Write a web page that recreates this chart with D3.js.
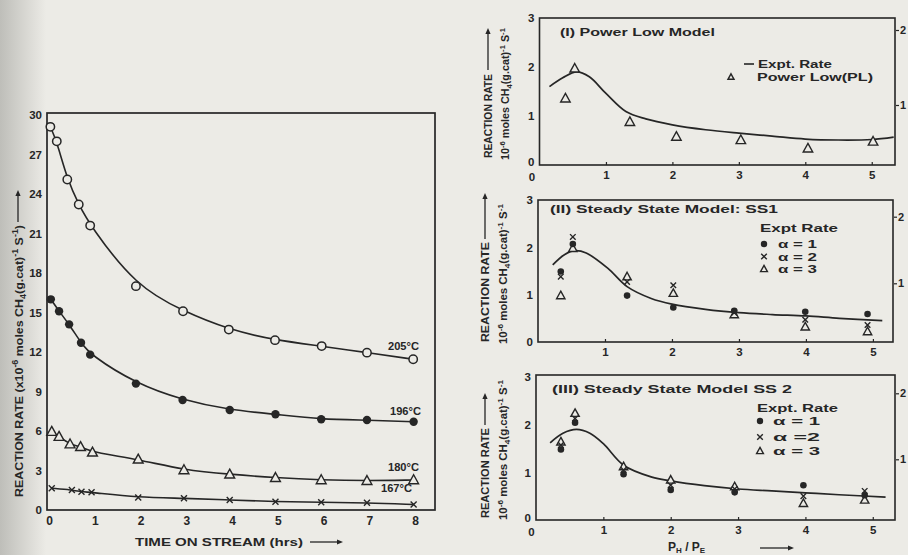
<!DOCTYPE html>
<html>
<head>
<meta charset="utf-8">
<script src="https://cdn.jsdelivr.net/npm/d3@7"></script>
<style>
  body { margin: 0; background: #ecebe6; }
  svg { display: block; }
  text { font-family: "Liberation Sans", Arial, sans-serif; font-weight: bold; fill: #262626; }
</style>
</head>
<body>
<div id="chart"></div>
<script>
// ---- left panel: reaction rate vs time on stream ----
const timeTicks = [0, 1, 2, 3, 4, 5, 6, 7, 8];
const rateTicks = [0, 3, 6, 9, 12, 15, 18, 21, 24, 27, 30];
const temps = ["205°C", "196°C", "180°C", "167°C"];

const time205 = [0.03, 0.17, 0.4, 0.65, 0.9, 1.9, 2.93, 3.93, 4.94, 5.96, 6.95, 7.96];
const rate205 = [29.1, 28.0, 25.1, 23.2, 21.6, 17.0, 15.1, 13.7, 12.9, 12.45, 11.95, 11.45];
const time196 = [0.04, 0.22, 0.44, 0.7, 0.9, 1.9, 2.92, 3.95, 4.95, 5.95, 6.95, 7.97];
const rate196 = [16.0, 15.1, 14.1, 12.7, 11.8, 9.6, 8.35, 7.6, 7.27, 6.89, 6.83, 6.7];
const time180 = [0.06, 0.22, 0.46, 0.69, 0.95, 1.95, 2.95, 3.95, 4.95, 5.95, 6.95, 7.97];
const rate180 = [5.95, 5.57, 5.0, 4.8, 4.38, 3.85, 3.04, 2.71, 2.45, 2.28, 2.22, 2.28];
const time167 = [0.06, 0.5, 0.71, 0.93, 1.95, 2.95, 3.95, 4.95, 5.95, 6.95, 7.97];
const rate167 = [1.65, 1.52, 1.39, 1.34, 0.95, 0.9, 0.76, 0.63, 0.58, 0.55, 0.42];

// ---- right panels: rate vs P_H / P_E ----
const ratioTicks = [0, 1, 2, 3, 4, 5];
const rightRateTicks = [0, 1, 2, 3];
const auxTicks = [1, 2];

// (I) power law model
const exptXI = [0.15, 0.35, 0.56, 0.75, 1.0, 1.3, 1.6, 2.0, 2.5, 3.0, 3.5, 4.0, 4.5, 5.0, 5.33];
const exptRateI = [1.6, 1.78, 1.9, 1.8, 1.46, 1.09, 0.94, 0.82, 0.72, 0.65, 0.59, 0.53, 0.51, 0.52, 0.57];
const plX = [0.39, 0.53, 1.36, 2.06, 3.03, 4.04, 5.02];
const plRate = [1.36, 1.97, 0.88, 0.58, 0.51, 0.34, 0.48];

// (II) steady state model SS1
const exptXII = [0.22, 0.4, 0.55, 0.72, 1.04, 1.33, 1.69, 2.0, 2.5, 3.0, 3.5, 4.0, 4.5, 5.14];
const exptRateII = [1.63, 1.85, 1.93, 1.88, 1.56, 1.17, 0.92, 0.8, 0.69, 0.62, 0.58, 0.55, 0.5, 0.45];
const ss1X = [0.34, 0.52, 1.33, 2.02, 2.93, 3.99, 4.92];
const ss1A1 = [1.49, 2.07, 0.98, 0.73, 0.66, 0.64, 0.59];
const ss1A2 = [1.38, 2.22, 1.27, 1.2, 0.62, 0.47, 0.36];
const ss1A3 = [0.98, 1.98, 1.38, 1.03, 0.58, 0.32, 0.22];

// (III) steady state model SS2
const exptXIII = [0.21, 0.4, 0.6, 0.8, 1.0, 1.3, 1.72, 2.0, 2.5, 3.0, 3.5, 4.0, 4.5, 5.19];
const exptRateIII = [1.62, 1.82, 1.9, 1.82, 1.6, 1.15, 0.9, 0.82, 0.72, 0.65, 0.61, 0.57, 0.53, 0.48];
const ss2X = [0.37, 0.58, 1.3, 2.0, 2.95, 3.97, 4.88];
const ss2A1 = [1.48, 2.04, 0.96, 0.63, 0.58, 0.73, 0.52];
const ss2A2 = [1.57, 2.13, 1.05, 0.73, 0.65, 0.5, 0.61];
const ss2A3 = [1.64, 2.24, 1.12, 0.84, 0.7, 0.35, 0.42];

const W = 908, H = 555;
const ink = "#262626";
const paper = "#ecebe6";
const fmt = d3.format("d");

const svg = d3.select("#chart").append("svg")
  .attr("width", W)
  .attr("height", H);

// paper + darker scan edge on the left
const grad = svg.append("defs").append("linearGradient")
  .attr("id", "edge").attr("x1", "0").attr("x2", "1");
grad.append("stop").attr("offset", "0").attr("stop-color", "#bebeb9");
grad.append("stop").attr("offset", "1").attr("stop-color", paper);
svg.append("rect").attr("width", W).attr("height", H).attr("fill", paper);
svg.append("rect").attr("width", 46).attr("height", H).attr("fill", "url(#edge)");

function arrow(x1, y1, x2, y2) {
  const a = Math.atan2(y2 - y1, x2 - x1), L = 6, w = 2.6;
  svg.append("line")
    .attr("x1", x1).attr("y1", y1).attr("x2", x2 - L * Math.cos(a)).attr("y2", y2 - L * Math.sin(a))
    .attr("stroke", ink).attr("stroke-width", 1.3);
  const p = [
    [x2, y2],
    [x2 - L * Math.cos(a) + w * Math.sin(a), y2 - L * Math.sin(a) - w * Math.cos(a)],
    [x2 - L * Math.cos(a) - w * Math.sin(a), y2 - L * Math.sin(a) + w * Math.cos(a)]
  ];
  svg.append("path").attr("d", "M" + p.join("L") + "Z").attr("fill", ink);
}

function mark(g, kind, cx, cy, s) {
  if (kind === "open") {
    g.append("circle").attr("cx", cx).attr("cy", cy).attr("r", s)
      .attr("fill", paper).attr("stroke", ink).attr("stroke-width", 1.5);
  } else if (kind === "dot") {
    g.append("circle").attr("cx", cx).attr("cy", cy).attr("r", s).attr("fill", ink);
  } else if (kind === "tri") {
    g.append("path")
      .attr("d", `M${cx},${cy - s}L${cx + s * 0.95},${cy + s * 0.72}L${cx - s * 0.95},${cy + s * 0.72}Z`)
      .attr("fill", paper).attr("stroke", ink).attr("stroke-width", 1.4);
  } else if (kind === "cross") {
    g.append("path")
      .attr("d", `M${cx - s},${cy - s}L${cx + s},${cy + s}M${cx + s},${cy - s}L${cx - s},${cy + s}`)
      .attr("stroke", ink).attr("stroke-width", 1.4);
  }
}

function styleAxis(g, size) {
  g.select(".domain").remove();
  g.selectAll("line").attr("stroke", ink).attr("stroke-width", 1.2);
  g.selectAll("text")
    .attr("font-family", "Liberation Sans, Arial, sans-serif")
    .attr("font-weight", "bold")
    .attr("font-size", size)
    .attr("fill", ink);
}

// rotated text label, reads bottom-to-top, starting at (x, y)
function vlabel(x, y, len, parts, size) {
  const t = svg.append("text")
    .attr("transform", `translate(${x},${y}) rotate(-90)`)
    .attr("font-size", size)
    .attr("textLength", len)
    .attr("lengthAdjust", "spacingAndGlyphs");
  parts.forEach(p => {
    const s = t.append("tspan").text(p[0]);
    if (p[1] === "sup") s.attr("font-size", size * 0.72).attr("dy", -size * 0.4);
    if (p[1] === "sub") s.attr("font-size", size * 0.72).attr("dy", size * 0.3);
    if (p[1] === "back") s.attr("dy", p[2]);
  });
  return t;
}

function label(x, y, str, size, len) {
  const t = svg.append("text").attr("x", x).attr("y", y).attr("font-size", size).text(str);
  if (len) t.attr("textLength", len).attr("lengthAdjust", "spacingAndGlyphs");
  return t;
}

// ================= LEFT PANEL =================
const xL = d3.scaleLinear().domain([0, 8]).range([49, 415]);
const yL = d3.scaleLinear().domain([0, 30]).range([510, 115]);

svg.append("rect")
  .attr("x", 47).attr("y", 113).attr("width", 388).attr("height", 397)
  .attr("fill", "none").attr("stroke", ink).attr("stroke-width", 1.7);

svg.append("g").attr("transform", "translate(0,510)")
  .call(d3.axisBottom(xL).tickValues(timeTicks).tickFormat(fmt).tickSize(0).tickPadding(6))
  .call(g => styleAxis(g, 12));
svg.append("g").attr("transform", "translate(45,0)")
  .call(d3.axisLeft(yL).tickValues(rateTicks).tickFormat(fmt).tickSize(0).tickPadding(3))
  .call(g => styleAxis(g, 11.5));

const leftSeries = [
  { name: temps[0], t: time205, r: rate205, kind: "open", s: 4.2, lx: 388, ly: 350 },
  { name: temps[1], t: time196, r: rate196, kind: "dot", s: 4.2, lx: 390, ly: 415 },
  { name: temps[2], t: time180, r: rate180, kind: "tri", s: 5.2, lx: 388, ly: 471 },
  { name: temps[3], t: time167, r: rate167, kind: "cross", s: 3, lx: 381, ly: 492 }
];

const lineL = d3.line()
  .x(d => xL(d[0]))
  .y(d => yL(d[1]))
  .curve(d3.curveBasis);

const gLeft = svg.append("g");
leftSeries.forEach(s => {
  const pts = s.t.map((t, i) => [t, s.r[i]]);
  gLeft.append("path").attr("d", lineL(pts))
    .attr("fill", "none").attr("stroke", ink).attr("stroke-width", 1.6);
  pts.forEach(p => mark(gLeft, s.kind, xL(p[0]), yL(p[1]), s.s));
  label(s.lx, s.ly, s.name, 11.5, 31);
});

// left axis titles
label(135, 546, "TIME ON STREAM (hrs)", 11.5, 168);
arrow(310, 542, 343, 542);

vlabel(23, 497, 272, [
  ["REACTION  RATE (x10"], ["-6", "sup"], [" moles CH", "back", 4.6], ["4", "sub"],
  ["(g.cat)", "back", -3.4], ["-1", "sup"], [" S", "back", 4.6], ["-1", "sup"], [")", "back", 4.6]
], 11.5);
arrow(18, 222, 18, 190);

// ================= RIGHT PANELS =================
const panels = [
  {
    left: 539.5, right: 895, top: 18, bottom: 165, y3: 18, xMax: 5.35,
    xTicks: ratioTicks, zeroDx: -8, zeroDy: 2, yZeroDy: -3, tickY: 6,
    aux: [105, 30],
    curve: { x: exptXI, y: exptRateI },
    groups: [{ x: plX, y: plRate, kind: "tri", s: 5 }],
    title: ["(I) Power Low Model", 560, 36, 155],
    yl: { x1: 492, x2: 509, base: 158, len1: 84, arrow: [70, 28], len2: 132 }
  },
  {
    left: 538, right: 893, top: 200, bottom: 342, y3: 200, xMax: 5.3,
    xTicks: ratioTicks.slice(1), zeroDx: 0, zeroDy: 0, yZeroDy: 0, tickY: 6,
    aux: [283.3, 216.7],
    curve: { x: exptXII, y: exptRateII },
    groups: [
      { x: ss1X, y: ss1A3, kind: "tri", s: 4.4 },
      { x: ss1X, y: ss1A2, kind: "cross", s: 2.8 },
      { x: ss1X, y: ss1A1, kind: "dot", s: 3.3 }
    ],
    title: ["(II) Steady State Model: SS1", 550, 213, 228],
    yl: { x1: 489, x2: 507, base: 342, len1: 100, arrow: [239, 193], len2: 140 }
  },
  {
    left: 536, right: 895, top: 375, bottom: 520, y3: 377, xMax: 5.33,
    xTicks: ratioTicks, zeroDx: -5, zeroDy: 2, yZeroDy: -2, tickY: 6,
    aux: [459.3, 393.3],
    curve: { x: exptXIII, y: exptRateIII },
    groups: [
      { x: ss2X, y: ss2A3, kind: "tri", s: 4.4 },
      { x: ss2X, y: ss2A2, kind: "cross", s: 2.8 },
      { x: ss2X, y: ss2A1, kind: "dot", s: 3.3 }
    ],
    title: ["(III) Steady State Model    SS 2", 552, 393, 240],
    yl: { x1: 489, x2: 507, base: 518, len1: 90, arrow: [425, 393], len2: 140 }
  }
];

panels.forEach(p => {
  const x = d3.scaleLinear().domain([0, p.xMax]).range([p.left, p.right]);
  const y = d3.scaleLinear().domain([0, 3]).range([p.bottom, p.y3]);
  const y2 = d3.scaleLinear().domain(auxTicks).range(p.aux);

  svg.append("rect")
    .attr("x", p.left).attr("y", p.top)
    .attr("width", p.right - p.left).attr("height", p.bottom - p.top)
    .attr("fill", "none").attr("stroke", ink).attr("stroke-width", 1.6);

  const gx = svg.append("g").attr("transform", `translate(0,${p.bottom})`)
    .call(d3.axisBottom(x).tickValues(p.xTicks).tickFormat(fmt).tickSize(-3).tickPadding(p.tickY))
    .call(g => styleAxis(g, 11.5));
  const zeroTick = gx.selectAll(".tick").filter(d => d === 0);
  zeroTick.select("text").attr("dx", p.zeroDx).attr("y", p.tickY + p.zeroDy);
  zeroTick.select("line").remove();

  const gy = svg.append("g").attr("transform", `translate(${p.left},0)`)
    .call(d3.axisLeft(y).tickValues(rightRateTicks).tickFormat(fmt).tickSize(0).tickPadding(5))
    .call(g => styleAxis(g, 11.5));
  gy.selectAll(".tick").filter(d => d === 0).select("text").attr("y", p.yZeroDy);

  svg.append("g").attr("transform", `translate(${p.right + 1},0)`)
    .call(d3.axisRight(y2).tickValues(auxTicks).tickFormat(fmt).tickSize(3).tickPadding(1))
    .call(g => styleAxis(g, 11));

  const line = d3.line()
    .x((d, i) => x(p.curve.x[i]))
    .y(d => y(d))
    .curve(d3.curveCatmullRom.alpha(0.5));
  svg.append("path").attr("d", line(p.curve.y))
    .attr("fill", "none").attr("stroke", ink).attr("stroke-width", 1.7);

  const gm = svg.append("g");
  p.groups.forEach(gr => {
    gr.y.forEach((v, i) => mark(gm, gr.kind, x(gr.x[i]), y(v), gr.s));
  });

  label(p.title[1], p.title[2], p.title[0], 11.5, p.title[3]);

  vlabel(p.yl.x1, p.yl.base, p.yl.len1, [["REACTION  RATE"]], 10.5);
  arrow(p.yl.x1 - 4, p.yl.arrow[0], p.yl.x1 - 4, p.yl.arrow[1]);
  vlabel(p.yl.x2, p.yl.base + 2, p.yl.len2, [
    ["10"], ["-6", "sup"], [" moles CH", "back", 4.2], ["4", "sub"],
    ["(g.cat)", "back", -3.1], ["-1", "sup"], [" S", "back", 4.2], ["-1", "sup"]
  ], 10.5);
});

// legends
svg.append("line").attr("x1", 744).attr("x2", 754).attr("y1", 64).attr("y2", 64)
  .attr("stroke", ink).attr("stroke-width", 1.6);
label(758, 68, "Expt. Rate", 11, 74);
mark(svg, "tri", 731, 77, 3.2);
label(757, 81, "Power Low(PL)", 11, 116);

label(760, 232, "Expt Rate", 11.5, 78);
mark(svg, "dot", 764, 244, 3.2);
label(778, 248, "α = 1", 11, 39);
mark(svg, "cross", 764, 256.5, 2.8);
label(778, 260.5, "α = 2", 11, 39);
mark(svg, "tri", 764, 269, 3.6);
label(778, 273, "α = 3", 11, 39);

label(757, 412, "Expt. Rate", 11.5, 81);
mark(svg, "dot", 760, 421, 3.2);
label(773, 425, "α  = 1", 11, 47);
mark(svg, "cross", 760, 437, 2.8);
label(773, 441, "α  =2", 11, 47);
mark(svg, "tri", 760, 451, 3.6);
label(773, 455, "α  = 3", 11, 47);

// x title under lower right panel: P_H / P_E
const xt = svg.append("text").attr("x", 668).attr("y", 551).attr("font-size", 12);
xt.append("tspan").text("P");
xt.append("tspan").text("H").attr("font-size", 8).attr("dy", 2);
xt.append("tspan").text(" / P").attr("dy", -2);
xt.append("tspan").text("E").attr("font-size", 8).attr("dy", 2);
arrow(760, 548, 794, 548);
</script>
</body>
</html>
